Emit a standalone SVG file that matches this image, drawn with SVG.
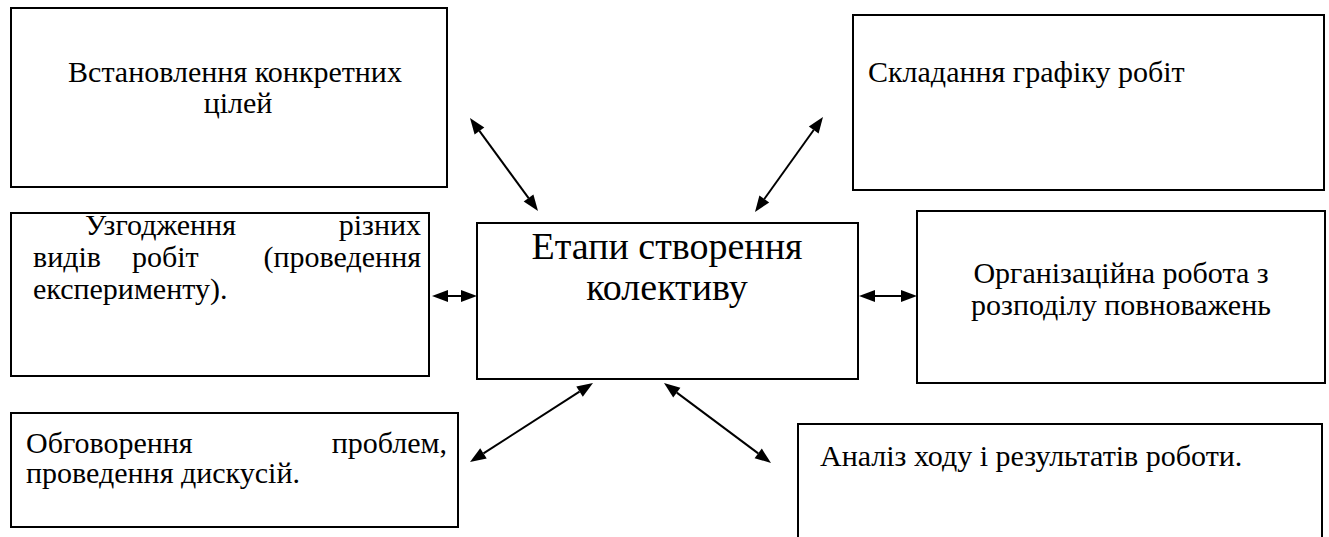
<svg xmlns="http://www.w3.org/2000/svg" width="1329" height="537" viewBox="0 0 1329 537">
<style>
  .box { fill: #ffffff; stroke: #000000; stroke-width: 2; }
  .s { font-family: "Liberation Serif", serif; font-size: 30px; fill: #000000; }
  .sc { font-family: "Liberation Serif", serif; font-size: 38px; fill: #000000; }
  .ln { stroke: #000000; stroke-width: 2; fill: none; }
  .hd { fill: #000000; stroke: none; }
</style>
<rect width="1329" height="537" fill="#ffffff"/>

<g id="node-goals">
  <rect class="box" x="11" y="8" width="436" height="179"/>
  <text class="s" x="235" y="82" text-anchor="middle">Встановлення конкретних</text>
  <text class="s" x="238" y="113" text-anchor="middle">цілей</text>
</g>

<g id="node-schedule">
  <rect class="box" x="853" y="15" width="471" height="175"/>
  <text class="s" x="868" y="82">Складання графіку робіт</text>
</g>

<g id="node-coordination">
  <rect class="box" x="11" y="213" width="418" height="163"/>
  <text class="s" x="85" y="235">Узгодження</text>
  <text class="s" x="421" y="235" text-anchor="end">різних</text>
  <text class="s" x="33" y="267">видів</text>
  <text class="s" x="132" y="267">робіт</text>
  <text class="s" x="421" y="267" text-anchor="end">(проведення</text>
  <text class="s" x="33" y="299">експерименту).</text>
</g>

<g id="node-center">
  <rect class="box" x="477" y="223" width="381" height="156"/>
  <text class="sc" x="667" y="259" text-anchor="middle">Етапи створення</text>
  <text class="sc" x="667" y="300" text-anchor="middle">колективу</text>
</g>

<g id="node-organization">
  <rect class="box" x="917" y="211" width="408" height="172"/>
  <text class="s" x="1121" y="283" text-anchor="middle">Організаційна робота з</text>
  <text class="s" x="1121" y="315" text-anchor="middle">розподілу повноважень</text>
</g>

<g id="node-discussion">
  <rect class="box" x="11" y="413" width="447" height="114"/>
  <text class="s" x="26" y="453">Обговорення</text>
  <text class="s" x="447" y="453" text-anchor="end">проблем,</text>
  <text class="s" x="26" y="483">проведення дискусій.</text>
</g>

<g id="node-analysis">
  <path d="M798,537 L798,424 L1322,424 L1322,537" fill="#ffffff" stroke="#000000" stroke-width="2"/>
  <text class="s" x="820" y="466">Аналіз ходу і результатів роботи.</text>
</g>

<g id="connectors">
  <line class="ln" x1="479.4" y1="130.9" x2="528.6" y2="198.1"/>
  <polygon class="hd" points="470,118 474.6,134.5 484.3,127.4"/>
  <polygon class="hd" points="538,211 523.7,201.6 533.4,194.5"/>

  <line class="ln" x1="813.7" y1="130" x2="764.3" y2="199"/>
  <polygon class="hd" points="823,117 808.8,126.5 818.6,133.5"/>
  <polygon class="hd" points="755,212 759.4,195.5 769.2,202.5"/>

  <line class="ln" x1="448" y1="296" x2="461" y2="296"/>
  <polygon class="hd" points="432,296 448,290 448,302"/>
  <polygon class="hd" points="477,296 461,290 461,302"/>

  <line class="ln" x1="875" y1="296" x2="901" y2="296"/>
  <polygon class="hd" points="859,296 875,290 875,302"/>
  <polygon class="hd" points="917,296 901,290 901,302"/>

  <line class="ln" x1="483.5" y1="453.4" x2="579.5" y2="391.6"/>
  <polygon class="hd" points="470,462 486.7,458.4 480.2,448.3"/>
  <polygon class="hd" points="593,383 582.8,396.7 576.3,386.6"/>

  <line class="ln" x1="676.8" y1="392.6" x2="758.2" y2="453.4"/>
  <polygon class="hd" points="664,383 673.2,397.4 680.4,387.8"/>
  <polygon class="hd" points="771,463 754.6,458.2 761.8,448.6"/>
</g>
</svg>
